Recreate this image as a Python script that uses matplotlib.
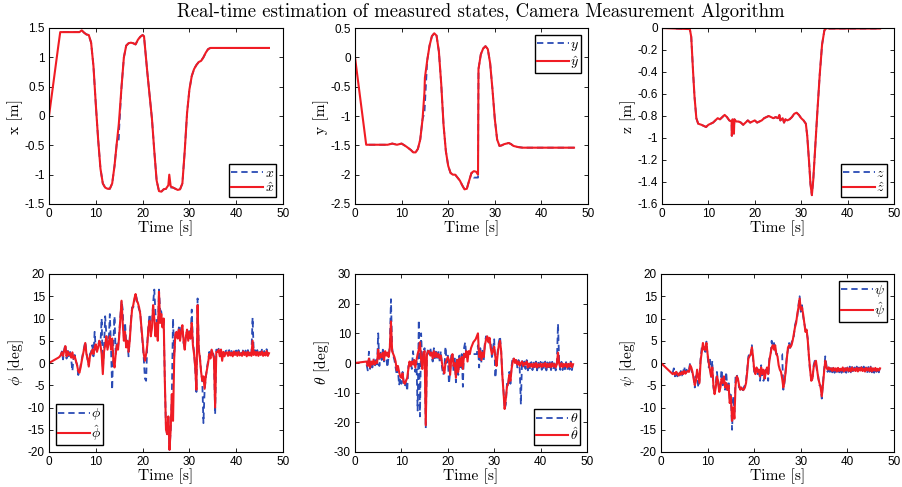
import numpy as np
import matplotlib
matplotlib.use('Agg')
import matplotlib.pyplot as plt

nan = np.nan

# Position states, time in s
tx = [0, 0.5, 1, 1.5, 2, 2.4, 3, 4, 5, 6, 6.5, 7, 7.5, 8, 8.5, 9, 9.5, 10, 10.5, 11, 11.5, 12, 12.5,
      13, 13.5, 14, 14.5, 14.9, 15, 15.5, 16, 16.5, 17, 17.5, 18, 18.5, 19, 19.5, 20, 20.3, 21, 21.5,
      22, 22.5, 23, 23.5, 24, 24.5, 25, 25.5, 25.7, 26, 26.5, 27, 27.5, 28, 28.5, 29, 29.5, 30, 30.5,
      31, 31.5, 32, 32.5, 33, 33.5, 34, 34.5, 35, 40, 47]
x_est = [0, 0.3, 0.6, 0.9, 1.2, 1.43, 1.43, 1.43, 1.43, 1.43, 1.43, 1.46, 1.42, 1.39, 1.38, 1.25,
         0.85, 0.2, -0.4, -0.9, -1.15, -1.22, -1.24, -1.24, -1.15, -0.85, -0.45, -0.15, -0.05, 0.5,
         1.0, 1.2, 1.24, 1.25, 1.24, 1.22, 1.30, 1.35, 1.38, 1.36, 0.75, 0.35, -0.05, -0.6, -1.1,
         -1.28, -1.29, -1.25, -1.24, -1.18, -1.0, -1.2, -1.22, -1.24, -1.26, -1.25, -1.15, -0.6, 0.05,
         0.45, 0.68, 0.8, 0.87, 0.92, 0.94, 1.0, 1.08, 1.14, 1.16, 1.16, 1.16, 1.16]
x_meas = [nan, nan, nan, nan, nan, nan, 1.43, 1.43, 1.43, 1.43, 1.43, 1.46, 1.42, 1.39, 1.38, 1.25,
          0.85, 0.2, -0.4, -0.9, -1.15, -1.22, -1.24, -1.24, -1.15, -0.85, -0.45, -0.4, -0.2, 0.5,
          1.0, 1.2, 1.24, 1.25, 1.24, 1.22, 1.30, 1.35, 1.38, 1.36, 0.75, 0.35, -0.05, -0.6, -1.1,
          -1.28, -1.29, -1.25, -1.24, -1.22, -1.22, -1.22, -1.22, -1.24, -1.26, -1.25, -1.15, -0.6, 0.05,
          0.45, 0.68, 0.8, 0.87, 0.92, 0.94, 1.0, 1.08, 1.14, 1.16, 1.16, 1.16, 1.16]

ty = [0, 0.5, 1, 1.5, 2, 2.4, 3, 5, 7, 8, 9, 10, 11, 12, 12.5, 13, 13.5, 14, 14.5, 14.9, 15, 15.5,
      16, 16.5, 17, 17.5, 18, 18.5, 19, 19.5, 20, 20.5, 21, 21.5, 22, 22.5, 23, 23.5, 24, 24.5, 25,
      25.5, 26, 26.4, 26.5, 27, 27.5, 28, 28.5, 29, 29.5, 30, 30.5, 31, 31.5, 32, 33, 33.5, 34, 35,
      36, 47]
y_est = [0, -0.31, -0.62, -0.93, -1.24, -1.49, -1.49, -1.49, -1.49, -1.47, -1.49, -1.47, -1.52, -1.58,
         -1.62, -1.62, -1.56, -1.4, -1.05, -0.6, -0.35, -0.05, 0.2, 0.36, 0.41, 0.37, 0.1, -0.45,
         -1.15, -1.6, -1.85, -1.97, -2.0, -2.0, -2.05, -2.1, -2.18, -2.25, -2.24, -2.1, -1.97, -1.94,
         -1.95, -2.0, -0.2, 0.05, 0.15, 0.19, 0.14, -0.1, -0.55, -1.05, -1.4, -1.51, -1.5, -1.48,
         -1.46, -1.48, -1.51, -1.53, -1.54, -1.54]
y_meas = [nan, nan, nan, nan, nan, nan, -1.49, -1.49, -1.49, -1.47, -1.49, -1.47, -1.52, -1.58,
          -1.62, -1.62, -1.56, -1.4, -1.05, -0.95, -0.8, -0.05, 0.2, 0.36, 0.41, 0.37, 0.1, -0.45,
          -1.15, -1.6, -1.85, -1.97, -2.0, -2.0, -2.05, -2.1, -2.18, -2.25, -2.24, -2.1, -1.97, -2.05,
          -2.05, -2.05, -0.2, 0.05, 0.15, 0.19, 0.14, -0.1, -0.55, -1.05, -1.4, -1.51, -1.5, -1.48,
          -1.46, -1.48, -1.51, -1.53, -1.54, -1.54]

tz = [0, 3, 6, 6.3, 6.7, 7, 7.4, 7.8, 8.5, 9, 9.5, 10, 10.5, 11, 11.5, 12, 12.5, 13, 13.5, 14, 14.5,
      15, 15.05, 15.2, 15.4, 15.5, 15.6, 16, 16.5, 17, 17.5, 18, 18.5, 19, 19.5, 20, 20.5, 21, 21.5,
      22, 22.5, 23, 23.5, 24, 24.5, 25, 25.3, 25.5, 26, 26.3, 26.6, 27, 27.5, 28, 28.5, 29, 29.5, 30,
      30.5, 31, 31.3, 31.7, 32, 32.3, 32.6, 33, 33.5, 34, 34.5, 35, 35.5, 36, 47]
z_est = [0, -0.005, -0.01, -0.08, -0.4, -0.62, -0.82, -0.87, -0.88, -0.89, -0.9, -0.88, -0.87, -0.86,
         -0.84, -0.82, -0.83, -0.81, -0.79, -0.81, -0.84, -0.85, -0.98, -0.83, -0.88, -0.96, -0.83,
         -0.85, -0.85, -0.86, -0.88, -0.86, -0.84, -0.86, -0.85, -0.84, -0.86, -0.85, -0.84, -0.82,
         -0.81, -0.8, -0.81, -0.82, -0.81, -0.82, -0.79, -0.84, -0.82, -0.86, -0.83, -0.84, -0.83,
         -0.81, -0.78, -0.77, -0.79, -0.82, -0.84, -0.87, -0.98, -1.22, -1.42, -1.52, -1.38, -1.1,
         -0.75, -0.42, -0.15, -0.02, 0.0, -0.005, -0.005]
z_meas = [nan, -0.005, -0.01, -0.08, -0.4, -0.62, -0.82, -0.87, -0.88, -0.89, -0.9, -0.88, -0.87, -0.86,
          -0.84, -0.82, -0.83, -0.81, -0.79, -0.81, -0.84, -0.85, -0.98, -0.83, -0.88, -0.96, -0.83,
          -0.85, -0.85, -0.86, -0.88, -0.86, -0.84, -0.86, -0.85, -0.84, -0.86, -0.85, -0.84, -0.82,
          -0.81, -0.8, -0.81, -0.82, -0.81, -0.82, -0.79, -0.84, -0.82, -0.86, -0.83, -0.84, -0.83,
          -0.81, -0.78, -0.77, -0.79, -0.82, -0.84, -0.87, -0.98, -1.22, -1.42, -1.52, -1.38, -1.1,
          -0.75, -0.42, -0.15, -0.02, 0.0, -0.005, -0.005]

# Attitude states, sampled every 0.25 s (one row = 2 s)
att_dt = 0.25
phi_est = [0, 0.15, 0.3, 0.45, 0.6, 0.75, 0.9, 1.05,
           1.2, 1.4, 1.8, 2.4, 1.6, 2.8, 3.8, 1.5,
           2.6, 1.8, 2.2, 1.2, 2.4, 1.0, 1.5, 0.5,
           -0.5, -1.8, -2.2, -1.0, 0.5, 1.8, 3.0, 4.5,
           2.0, 1.0, -0.8, 1.5, 2.2, 3.0, 2.0, 3.5,
           4.2, 2.5, 3.5, 5.0, 4.0, 2.0, -2.5, 2.5,
           4.0, 6.0, 3.0, 4.5, 6.0, 3.0, 5.5, 0.5,
           -1.0, 2.0, 4.0, 3.0, 6.0, 10.0, 14.0, 9.0,
           5.0, 7.0, 3.5, 5.0, 2.5, 5.0, 9.0, 12.0,
           13.0, 14.5, 15.5, 14.0, 13.5, 12.5, 11.0, 8.0,
           5.0, 2.0, 0.5, 2.0, 4.0, 8.0, 9.5, 6.0,
           8.0, 13.0, 10.0, 6.0, 9.0, 5.0, 16.0, 9.0,
           11.0, 8.0, 10.0, -4.0, -15.0, -16.0, -12.0, -19.5,
           -15.0, -7.0, -13.0, 1.0, 6.5, 7.0, 5.5, 7.5,
           5.0, 7.0, 8.5, 5.0, 3.0, 6.0, 7.5, 5.0,
           7.0, 5.5, 9.0, 4.0, 2.0, -1.0, -6.0, 13.0,
           3.0, 1.0, -2.0, -4.0, -3.0, -5.8, -3.0, -1.5,
           0.0, 2.0, 1.0, 3.0, 2.0, 1.0, -10.0, 2.5,
           2.5, 3.0, 1.5, 3.0, 0.5, 2.5, 1.5, 2.3,
           2.4, 1.6, 2.5, 1.7, 2.3, 1.5, 2.6, 1.8,
           2.4, 1.6, 2.5, 1.7, 2.2, 1.6, 2.6, 1.8,
           2.4, 1.5, 2.5, 1.7, 2.3, 1.6, 5.0, 1.8,
           2.5, 1.7, 2.5, 1.6, 2.4, 1.8, 2.6, 1.6,
           2.3, 1.7, 2.7, 1.6, 2.2]
phi_meas = [nan, nan, nan, nan, nan, nan, nan, nan,
            nan, nan, 1.5, 2.6, 0.8, 3.0, 4.2, 1.0,
            2.9, 1.5, 2.5, 0.8, -1.8, 1.2, 1.8, 0.3,
            -0.3, -2.7, -2.0, -0.5, 0.8, 2.2, 3.5, 4.8,
            2.5, 0.5, -0.5, 2.0, 2.5, 4.0, 1.5, 7.0,
            3.0, 3.0, 4.0, 5.0, 4.5, 10.0, -1.5, 3.0,
            10.5, 6.5, 3.5, 4.5, 11.0, 3.5, -6.0, 5.0,
            10.5, 2.0, 4.5, 3.5, 6.5, 10.5, 14.0, 12.0,
            5.5, 9.0, 4.5, 5.0, 1.5, 5.5, 9.5, 12.5,
            12.5, 14.0, 15.5, 14.5, 13.0, 12.0, 11.5, 7.5,
            4.5, 1.0, -3.5, -4.0, 4.5, 8.5, 11.0, 6.5,
            8.5, 13.5, 16.5, 11.0, 9.5, 6.0, 16.5, 12.0,
            11.5, 8.5, 9.5, -4.0, -15.0, -16.0, -12.0, -19.5,
            -15.0, -7.0, 10.0, 1.5, 7.0, 6.5, 6.0, 8.0,
            5.5, 8.0, 8.0, 4.5, 3.5, 6.5, 7.0, 5.5,
            7.5, 5.5, 12.0, 4.5, 2.5, -1.5, -6.5, 14.5,
            3.5, 1.5, -2.0, -4.0, -13.5, -6.0, -3.5, -1.0,
            0.5, 2.5, 1.5, 3.0, 2.5, 1.5, -11.5, 3.0,
            2.8, 3.2, 2.0, 3.0, 1.5, 2.8, 2.0, 2.7,
            2.8, 2.0, 2.9, 2.1, 2.7, 1.9, 3.0, 2.2,
            2.8, 2.0, 2.9, 2.1, 2.6, 2.0, 3.0, 2.2,
            2.8, 1.9, 2.9, 2.1, 2.7, 2.0, 10.2, 2.2,
            2.9, 2.1, 2.9, 2.0, 2.8, 2.2, 3.0, 2.0,
            2.7, 2.1, 3.1, 2.0, 2.6]

theta_est = [0, 0.05, 0.1, 0.15, 0.2, 0.25, 0.3, 0.35,
             0.4, 0.45, 0.5, -1.0, 1.5, -1.5, 0.5, -0.5,
             1.0, -0.5, 0.5, 0.0, 4.5, 1.5, 3.0, 2.0,
             3.5, 1.0, 4.0, 2.5, 3.5, 2.0, 5.0, 14.0,
             4.0, 3.0, 2.0, 0.5, -2.5, -1.0, -3.0, -4.5,
             -5.0, -3.5, -6.5, -7.0, -6.0, -5.0, -2.0, 0.5,
             -1.0, 0.5, -0.5, 1.0, -1.5, 1.0, 3.0, 4.5,
             7.0, 1.0, -2.0, 3.5, 4.0, -21.0, 3.0, 4.0,
             4.0, 2.5, 3.5, 1.5, 4.0, 2.0, 3.5, 2.0,
             3.0, 1.5, 2.5, 0.0, -2.0, -3.5, 0.0, 1.0,
             2.0, 1.0, -4.0, 1.5, 3.0, -1.0, 0.0, -5.0,
             1.0, -3.0, 1.5, -1.0, 2.0, -2.0, 3.0, 2.0,
             4.0, 0.5, 4.0, 3.0, 5.0, 6.0, 7.0, 7.5,
             8.0, 9.0, 10.0, 2.0, 4.0, 1.0, 3.5, 2.0,
             6.0, 8.0, 9.0, 7.0, 8.5, 5.0, 3.0, 4.0,
             5.5, 2.0, -1.0, 3.0, 6.0, 7.5, 4.0, -4.0,
             -10.0, -15.5, -12.0, -8.0, -7.0, -4.0, -6.0, -2.0,
             0.5, 1.5, 0.0, 1.0, -0.5, 0.5, -1.0, 0.0,
             0.5, -1.0, 0.0, -0.5, 0.5, -1.5, -0.2, -1.2,
             -0.3, -1.4, -0.2, -1.3, 0.0, -1.5, -0.4, -1.2,
             -0.2, -1.4, -0.3, -1.1, 0.0, -1.5, -0.3, -1.3,
             -0.2, -1.4, -0.1, -1.2, -0.3, -1.5, -0.4, 3.5,
             -0.2, -1.3, -0.1, -1.4, -0.3, -1.1, -0.2, -1.5,
             -0.3, -1.2, 0.0, -1.4, -0.4]
theta_meas = [nan, nan, nan, nan, nan, nan, nan, nan,
              nan, nan, -0.5, -2.5, 3.8, -2.0, 0.0, -1.5,
              1.5, -1.5, 1.0, -0.5, 10.0, -1.0, 3.5, 1.0,
              4.5, 0.5, 3.5, 1.5, -1.5, 2.5, 5.5, 21.5,
              5.0, 2.5, 1.0, -1.5, -4.0, -2.0, -7.5, -5.0,
              -7.0, -3.0, -7.0, -8.0, -5.5, -9.5, -1.0, -0.5,
              0.5, -2.0, 4.0, 0.0, -3.0, 0.5, -16.0, 14.5,
              -18.0, 10.0, -1.0, 4.0, 5.0, -22.0, 2.0, 5.0,
              3.0, 5.0, 2.0, 0.5, 5.0, 1.0, 4.5, 1.0,
              4.0, 0.5, 4.0, -1.5, -4.0, -2.5, 5.5, 0.0,
              2.5, -7.0, -3.0, 2.5, 3.5, -3.0, 1.5, -6.5,
              2.0, -4.0, 2.5, -2.0, 3.0, -8.0, 5.0, 7.0,
              2.0, 3.0, 3.0, 3.0, 3.0, 3.0, 3.0, 3.0,
              3.0, 3.0, 6.0, -1.5, 5.0, 0.0, 4.5, 1.0,
              7.0, 9.0, 7.0, 8.0, 6.0, 6.5, 2.0, 5.0,
              8.0, -5.0, 0.0, 4.0, 7.0, 9.0, 4.0, -4.0,
              -9.0, -15.5, -14.0, -7.0, -8.0, -3.0, -7.0, -1.0,
              2.0, 1.0, 0.5, 1.5, -1.5, 1.0, -2.0, -14.0,
              1.0, -2.0, 0.5, -2.0, 1.0, -2.5, 0.2, -2.2,
              0.3, -2.4, 0.4, -2.0, 0.5, -2.5, 0.1, -2.2,
              0.4, -2.3, 0.2, -2.1, 0.5, -2.5, 0.2, -2.3,
              0.3, -2.4, 0.4, -2.2, 0.2, -2.5, 0.0, 13.2,
              0.3, -2.3, 0.4, -2.4, 0.1, -2.1, 0.3, -2.5,
              0.2, -2.2, 0.5, -2.4, 0.1]

psi_est = [0, -0.25, -0.5, -0.75, -1.0, -1.25, -1.5, -1.75,
           -2.0, -2.25, -2.5, -2.2, -2.6, -2.0, -2.4, -2.8,
           -2.2, -2.6, -2.0, -2.5, -1.8, -2.4, -2.0, -1.8,
           -2.0, -0.5, -1.0, -2.0, -3.5, -5.0, -4.0, -1.5,
           -3.0, -4.5, 0.5, 2.5, 4.5, 3.0, 3.0, 4.5,
           2.0, 0.0, -1.5, -3.0, -1.0, -5.0, -7.0, -5.5,
           -3.0, -4.0, -6.5, -5.5, -3.5, -4.5, -3.0, -5.5,
           -4.5, -6.0, -5.0, -9.0, -7.5, -13.0, -10.0, -12.5,
           -5.0, -3.0, -3.5, -5.0, -6.0, -5.5, -6.0, -6.0,
           -5.5, -4.5, -2.0, 1.0, 1.5, 2.0, 3.5, 1.5,
           -1.5, -2.5, -1.0, -2.0, -1.5, -3.0, -1.0, -2.5,
           -1.5, -3.5, -2.0, -1.0, -2.5, 0.5, 2.0, 3.5,
           4.0, 3.0, 4.0, 2.0, 1.5, -0.5, -1.5, -2.0,
           -3.5, -5.5, -4.0, -2.0, 1.0, 3.5, 4.0, 3.5,
           4.0, 5.0, 6.5, 8.0, 9.0, 11.0, 12.5, 14.5,
           12.0, 12.5, 11.0, 9.0, 7.0, 7.5, 5.0, 1.5,
           -1.5, -4.0, -3.5, -1.0, 0.0, 0.5, -1.5, -3.5,
           -4.5, -5.5, -7.5, -5.0, -2.0, 0.5, -1.0, -1.5,
           -1.0, -1.5, -1.2, -1.8, -1.1, -1.7, -1.2, -1.9,
           -1.1, -1.8, -1.3, -1.7, -1.0, -1.9, -1.2, -1.7,
           -1.1, -1.8, -1.2, -1.9, -1.0, -1.7, -1.3, -1.8,
           -1.1, -1.9, -1.2, -1.7, -1.0, -1.8, -1.3, -1.9,
           -1.1, -1.7, -1.2, -1.8, -1.0, -1.9, -1.2, -1.7,
           -1.1, -1.8, -1.3, -1.7, -1.2]
psi_meas = [nan, nan, nan, nan, nan, nan, nan, nan,
            nan, nan, -2.2, -1.2, -3.0, -1.6, -3.0, -2.2,
            -2.8, -1.8, -2.8, -2.0, -0.8, -2.8, -1.5, -2.2,
            -1.5, 0.0, -1.5, -2.5, -3.0, -5.5, -3.0, -2.5,
            -5.5, -4.0, 1.0, 3.5, 4.0, 3.5, 2.5, 4.8,
            1.5, -1.0, 1.0, -3.5, 0.5, -5.5, -7.0, -4.5,
            -2.0, -4.5, -6.0, -4.5, -1.5, -5.0, -3.5, -6.0,
            -2.0, -6.5, -4.0, -8.0, -7.0, -15.0, -7.5, -11.0,
            -3.0, -2.5, -4.0, -5.5, -5.5, -6.5, -6.5, -5.5,
            -5.0, -4.0, -1.5, 1.5, 2.0, 1.5, 4.0, 1.0,
            -2.0, -2.0, -2.0, -2.5, -1.0, -4.0, -0.5, -3.0,
            -4.0, -3.0, -1.5, -2.0, -4.0, 1.0, 1.5, 5.0,
            3.5, 4.5, 3.0, 2.0, 2.0, 2.0, 2.0, 2.0,
            2.0, -6.0, -4.5, -1.5, 1.5, 3.0, 4.5, 3.0,
            4.5, 5.5, 6.0, 8.5, 9.5, 10.5, 13.0, 15.0,
            11.5, 13.0, 10.5, 9.0, 7.5, 7.0, 5.5, 1.0,
            -2.0, -3.5, -4.0, -0.5, 0.5, 0.0, -2.0, -3.0,
            -5.0, -5.0, -8.0, -4.5, -1.5, 1.5, -0.5, -2.0,
            -0.8, -2.0, -1.0, -2.1, -0.9, -2.2, -1.0, -2.0,
            -0.8, -2.1, -1.0, -2.2, -0.9, -2.0, -0.8, -2.2,
            -1.0, -2.0, -0.8, -2.1, -0.9, -2.2, -1.0, -2.0,
            -0.8, -2.1, -1.0, -2.2, -0.9, -2.0, -0.8, -2.1,
            -1.0, -2.2, -0.9, -2.0, -0.8, -2.1, -1.0, -2.2,
            -0.9, -2.0, -1.0, -2.1, -0.8]

BLUE = '#2a4bb5'
RED = '#f01c24'
SERIF = 'cmr10'

plt.rcParams['font.family'] = 'Liberation Sans'
plt.rcParams['mathtext.fontset'] = 'cm'

fig = plt.figure(figsize=(9.03, 4.87), dpi=100)
W, H = 903.0, 487.0


def make_ax(left, right, top, bottom):
    return fig.add_axes([left / W, 1 - bottom / H, (right - left) / W, (bottom - top) / H])


def draw(ax, t_meas, meas, t_est, est, ylim, yticks, ylabel, labels, loc):
    l1, = ax.plot(t_meas, meas, color=BLUE, lw=1.3, ls=(0, (3.5, 2.2)))
    l2, = ax.plot(t_est, est, color=RED, lw=1.5)
    ax.set_xlim(0, 50)
    ax.set_ylim(*ylim)
    ax.set_xticks([0, 10, 20, 30, 40, 50])
    ax.set_yticks(yticks)
    ax.set_yticklabels(['%g' % v for v in yticks])
    ax.tick_params(direction='in', top=True, right=True, length=3, width=0.6,
                   labelsize=8.5, pad=3)
    for sp in ax.spines.values():
        sp.set_linewidth(0.8)
    ax.set_xlabel('Time [s]', fontfamily=SERIF, fontsize=11.2, labelpad=0)
    ax.set_ylabel(ylabel, fontfamily=SERIF, fontsize=11.2, labelpad=1)
    leg = ax.legend([l1, l2], labels, loc=loc, fontsize=10, fancybox=False,
                    edgecolor='black', framealpha=1, handlelength=2.3,
                    handletextpad=0.1, borderpad=0.15, labelspacing=0.05,
                    borderaxespad=0.5)
    leg.get_frame().set_linewidth(1.0)


ax1 = make_ax(49, 283, 28, 204)
draw(ax1, tx, x_meas, tx, x_est, (-1.5, 1.5), [-1.5, -1, -0.5, 0, 0.5, 1, 1.5],
     'x [m]', [r'$x$', r'$\hat{x}$'], 'lower right')

ax2 = make_ax(355, 588, 28, 204)
draw(ax2, ty, y_meas, ty, y_est, (-2.5, 0.5), [-2.5, -2, -1.5, -1, -0.5, 0, 0.5],
     'y [m]', [r'$y$', r'$\hat{y}$'], 'upper right')

ax3 = make_ax(662, 894, 28, 204)
draw(ax3, tz, z_meas, tz, z_est, (-1.6, 0), [-1.6, -1.4, -1.2, -1, -0.8, -0.6, -0.4, -0.2, 0],
     'z [m]', [r'$z$', r'$\hat{z}$'], 'lower right')

t_phi = np.arange(len(phi_est)) * att_dt
ax4 = make_ax(49, 283, 274, 452)
draw(ax4, np.arange(len(phi_meas)) * att_dt, phi_meas, t_phi, phi_est, (-20, 20),
     [-20, -15, -10, -5, 0, 5, 10, 15, 20], r'$\phi$ [deg]',
     [r'$\phi$', r'$\hat{\phi}$'], 'lower left')

t_theta = np.arange(len(theta_est)) * att_dt
ax5 = make_ax(355, 587, 274, 452)
draw(ax5, np.arange(len(theta_meas)) * att_dt, theta_meas, t_theta, theta_est, (-30, 30),
     [-30, -20, -10, 0, 10, 20, 30], r'$\theta$ [deg]',
     [r'$\theta$', r'$\hat{\theta}$'], 'lower right')

t_psi = np.arange(len(psi_est)) * att_dt
ax6 = make_ax(661, 894, 274, 452)
draw(ax6, np.arange(len(psi_meas)) * att_dt, psi_meas, t_psi, psi_est, (-20, 20),
     [-20, -15, -10, -5, 0, 5, 10, 15, 20], r'$\psi$ [deg]',
     [r'$\psi$', r'$\hat{\psi}$'], 'upper right')

fig.text(481 / W, 1 - 12 / H, 'Real-time estimation of measured states, Camera Measurement Algorithm',
         ha='center', va='center', fontfamily=SERIF, fontsize=13.5)

fig.savefig('out.png', dpi=100)
